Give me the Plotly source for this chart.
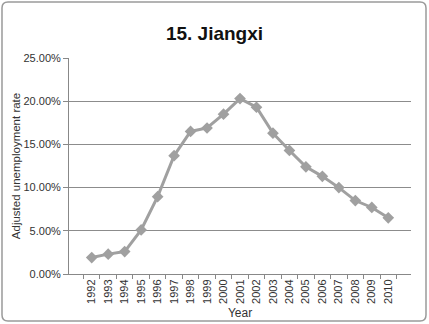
import plotly.graph_objects as go

# Adjusted unemployment rate, Jiangxi province
years = [str(y) for y in range(1992, 2011)]
rates = [0.019, 0.023, 0.026, 0.051, 0.0895, 0.137, 0.165, 0.169, 0.185, 0.203,
         0.193, 0.163, 0.143, 0.124, 0.113, 0.100, 0.085, 0.077, 0.065]
y_ticks = [0, 0.05, 0.10, 0.15, 0.20, 0.25]

W, H = 429, 324
ML, MR, MT, MB = 69, 18, 58, 50
PW, PH = W - ML - MR, H - MT - MB

def px_to_paper(x, y):
    return (x - ML) / PW, (H - MB - y) / PH

# rounded outer frame, converted from pixel space to paper space
x0, y0, x1, y1, r = 2, 2, 426, 321, 6
def P(x, y):
    px, py = px_to_paper(x, y)
    return f"{px:.5f},{py:.5f}"
frame = (f"M {P(x0 + r, y0)} L {P(x1 - r, y0)} Q {P(x1, y0)} {P(x1, y0 + r)} "
         f"L {P(x1, y1 - r)} Q {P(x1, y1)} {P(x1 - r, y1)} "
         f"L {P(x0 + r, y1)} Q {P(x0, y1)} {P(x0, y1 - r)} "
         f"L {P(x0, y0 + r)} Q {P(x0, y0)} {P(x0 + r, y0)} Z")

fig = go.Figure()
fig.add_trace(go.Scatter(
    x=years, y=rates, mode="lines+markers",
    line=dict(color="#a0a0a0", width=3),
    marker=dict(symbol="diamond", size=9, color="#a0a0a0"),
    showlegend=False,
))

font = "Liberation Sans, Arial, sans-serif"
fig.update_layout(
    width=W, height=H,
    margin=dict(l=ML, r=MR, t=MT, b=MB),
    paper_bgcolor="white", plot_bgcolor="white",
    title=dict(text="<b>15. Jiangxi</b>", x=0.5, xanchor="center",
               y=1 - 33 / H, yanchor="middle",
               font=dict(family=font, size=19, color="#111")),
    font=dict(family=font, size=11, color="#333"),
    xaxis=dict(
        type="category", tickangle=-90, ticks="outside", tickson="boundaries",
        ticklen=4, tickcolor="#888", showline=True, linecolor="#888",
        linewidth=1, showgrid=False, automargin=False,
        title=dict(text="Year", standoff=5, font=dict(size=12)),
        tickfont=dict(size=11),
    ),
    yaxis=dict(
        range=[0, 0.25], tickvals=y_ticks, tickformat=".2%",
        ticks="outside", ticklen=5, tickcolor="#888",
        showline=True, linecolor="#888", linewidth=1, automargin=False,
        showgrid=True, gridcolor="#8c8c8c", gridwidth=1, zeroline=False,
        title=dict(text="Adjusted unemployment rate", standoff=0, font=dict(size=11.5)),
        tickfont=dict(size=11),
    ),
    shapes=[dict(type="path", path=frame, xref="paper", yref="paper",
                 line=dict(color="#9a9a9a", width=1.5), layer="below")],
)

fig.write_html("out.html")
